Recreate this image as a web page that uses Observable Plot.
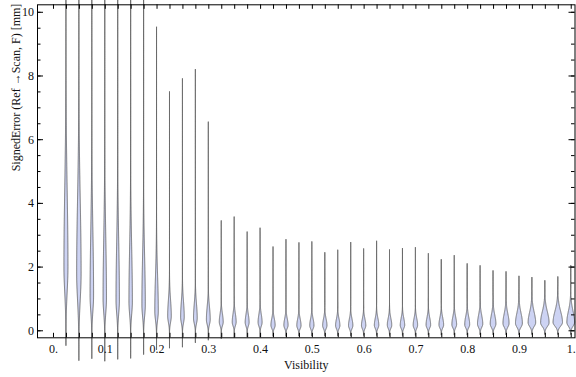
<!DOCTYPE html>
<html><head><meta charset="utf-8">
<script src="https://cdn.jsdelivr.net/npm/d3@7"></script>
<script src="https://cdn.jsdelivr.net/npm/@observablehq/plot@0.6"></script>
<style>body{margin:0;background:#fff}</style>
</head><body><div id="chart"></div>
<script>
// Violin positions (Visibility)
const positions = [0.025,0.05,0.075,0.1,0.125,0.15,0.175,0.2,0.225,0.25,0.275,0.3,0.325,0.35,0.375,0.4,0.425,0.45,0.475,0.5,0.525,0.55,0.575,0.6,0.625,0.65,0.675,0.7,0.725,0.75,0.775,0.8,0.825,0.85,0.875,0.9,0.925,0.95,0.975,1.0];
// Max signed error per bin (top of violin) [mm]
const maxVals = [12,12,12,12,12,12,12,9.53,7.50,7.91,8.20,6.55,3.45,3.57,3.10,3.22,2.63,2.86,2.76,2.79,2.45,2.53,2.77,2.57,2.81,2.54,2.58,2.61,2.42,2.23,2.36,2.10,2.04,1.88,1.85,1.71,1.67,1.57,1.69,2.04];
// Min signed error per bin (bottom of violin) [mm]
const minVals = [-0.47,-0.94,-0.88,-0.96,-0.90,-0.87,-0.75,-0.60,-0.55,-0.52,-0.38,-0.30,-0.25,-0.22,-0.20,-0.20,-0.18,-0.18,-0.17,-0.17,-0.16,-0.16,-0.16,-0.15,-0.15,-0.15,-0.15,-0.15,-0.14,-0.14,-0.14,-0.14,-0.13,-0.13,-0.13,-0.13,-0.12,-0.12,-0.12,-0.12];
// Mode of each distribution [mm]
const modeVals = [2.0,1.8,1.1,1.0,0.95,0.9,0.8,0.6,0.45,0.42,0.38,0.34,0.26,0.26,0.25,0.25,0.16,0.16,0.15,0.15,0.15,0.15,0.15,0.15,0.16,0.16,0.16,0.16,0.17,0.17,0.18,0.18,0.2,0.2,0.22,0.22,0.24,0.24,0.25,0.25];
// Peak density half-width (in Visibility units)
const peakWidths = [0.0039,0.0043,0.0034,0.0033,0.0033,0.0033,0.0033,0.0034,0.0035,0.0035,0.0036,0.0037,0.0038,0.0038,0.0038,0.0039,0.0041,0.0041,0.0041,0.0041,0.0042,0.0042,0.0042,0.0042,0.0043,0.0043,0.0043,0.0043,0.0044,0.0045,0.0046,0.0048,0.0051,0.0055,0.0059,0.0067,0.0073,0.0082,0.0091,0.0075];
// Spread of the density above / below the mode [mm]
const spreadUp = [2.4,2.3,2.0,1.9,1.8,1.7,1.5,1.1,0.5,0.48,0.45,0.4,0.26,0.26,0.25,0.25,0.21,0.21,0.21,0.21,0.21,0.21,0.21,0.21,0.22,0.22,0.22,0.22,0.23,0.23,0.24,0.25,0.27,0.28,0.3,0.32,0.33,0.34,0.35,0.35];
const spreadDown = [0.8,0.85,0.5,0.45,0.42,0.4,0.36,0.28,0.2,0.19,0.17,0.16,0.12,0.12,0.12,0.12,0.1,0.1,0.1,0.1,0.1,0.1,0.1,0.1,0.1,0.1,0.1,0.1,0.1,0.1,0.1,0.1,0.11,0.11,0.12,0.12,0.12,0.12,0.12,0.12];
// Tick labels
const xTickValues = [0,0.1,0.2,0.3,0.4,0.5,0.6,0.7,0.8,0.9,1.0];
const xTickLabels = ["0.","0.1","0.2","0.3","0.4","0.5","0.6","0.7","0.8","0.9","1."];
const xMinorTicks = d3.range(0, 41).map(i => i * 0.025);
const yTicks = [0,2,4,6,8,10];
const yMinorTicks = d3.range(0, 21).map(i => i * 0.5);
const xLabel = "Visibility";
const yLabel = "SignedError (Ref \u2192Scan, F) [mm]";

// Build violin outlines
const rows = [];
positions.forEach((p, i) => {
  const lo = minVals[i], hi = maxVals[i], m = modeVals[i];
  const N = 600;
  for (let k = 0; k <= N; k++) {
    const y = lo + (hi - lo) * k / N;
    const d = y - m;
    const s = d >= 0 ? spreadUp[i] : spreadDown[i];
    const w = peakWidths[i] * Math.exp(-0.5 * (d / s) * (d / s));
    rows.push({id: i, y, x1: p - w, x2: p + w});
  }
});

const W = 576, H = 377, mL = 37, mR = 1.5, mT = 4.3, mB = 39.7;
const fw = W - mL - mR, fh = H - mT - mB;

const chart = Plot.plot({
  width: W, height: H,
  marginLeft: mL, marginRight: mR, marginTop: mT, marginBottom: mB,
  x: {domain: [-0.0309, 1.0073]},
  y: {domain: [-0.22, 10.235]},
  style: {fontFamily: "'Liberation Serif', 'DejaVu Serif', serif", fontSize: "12px", color: "#111", background: "white", overflow: "visible"},
  marks: [
    Plot.areaX(rows, {y: "y", x1: "x1", x2: "x2", z: "id", fill: "#cdd3f3", stroke: "#4d4d4d", strokeWidth: 0.75, curve: "linear"}),
    Plot.frame({stroke: "#000", strokeWidth: 1}),
    Plot.tickX(xMinorTicks, {x: d => d, insetTop: fh - 4.5, stroke: "#000"}),
    Plot.tickX(xMinorTicks, {x: d => d, insetBottom: fh - 4.5, stroke: "#000"}),
    Plot.tickY(yTicks, {y: d => d, insetRight: fw - 6, stroke: "#000"}),
    Plot.tickY(yMinorTicks, {y: d => d, insetRight: fw - 3.5, stroke: "#000"}),
    Plot.tickY(yTicks, {y: d => d, insetLeft: fw - 6, stroke: "#000"}),
    Plot.tickY(yMinorTicks, {y: d => d, insetLeft: fw - 3.5, stroke: "#000"}),
    Plot.axisX({ticks: xTickValues, tickSize: 0, tickPadding: 7, tickFormat: d => xTickLabels[Math.round(d * 10)], label: null}),
    Plot.axisY({ticks: yTicks, tickSize: 0, tickPadding: 3.5, label: null}),
    Plot.text([xLabel], {frameAnchor: "bottom", dy: 31.6, text: d => d, fill: "#111"}),
    Plot.text([yLabel], {frameAnchor: "left", dx: -21, rotate: -90, text: d => d, fill: "#111"})
  ]
});
document.getElementById("chart").append(chart);
</script>
</body></html>
